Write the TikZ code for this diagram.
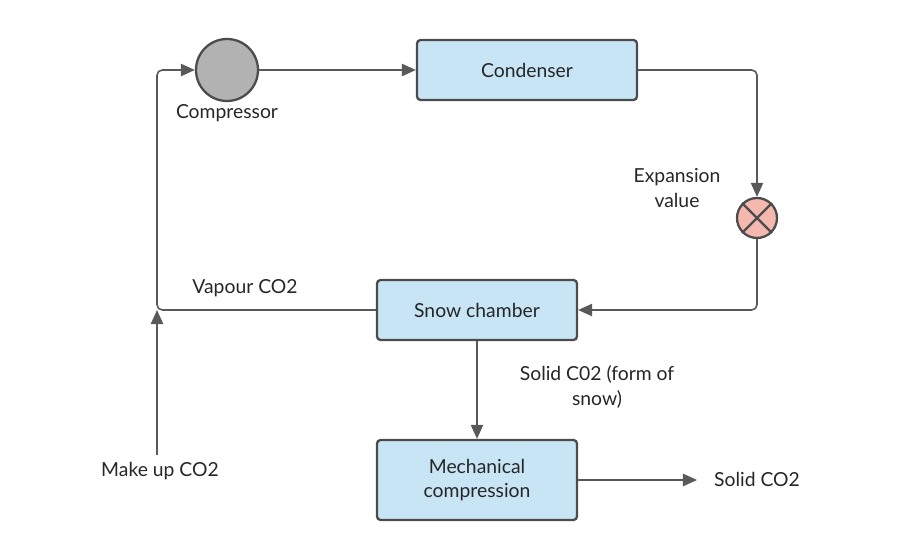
\documentclass[tikz,border=0pt]{standalone}
\usepackage{fontspec}
\setmainfont{Lato}
\usetikzlibrary{arrows.meta}
\definecolor{boxblue}{HTML}{C7E5F5}
\definecolor{valvered}{HTML}{F4B8AE}
\begin{document}
\begin{tikzpicture}[x=0.02cm,y=-0.02cm,
  font=\fontsize{11}{14}\selectfont, text=black!85,
  box/.style={draw=black!70, line width=1.3pt, fill=boxblue, rounded corners=2pt, align=center, inner sep=0pt},
  flow/.style={draw=black!65, line width=0.9pt, -{Triangle[length=8pt,width=7pt]}, rounded corners=3pt},
  lbl/.style={align=center}]
\useasboundingbox (0,0) rectangle (917,560);
\node[circle, draw=black!70, line width=1.3pt, fill=black!30, minimum size=62\pgfmathresult*0.02cm, minimum size=1.24cm, inner sep=0pt] (comp) at (227,70) {};
\node[box, minimum width=4.4cm, minimum height=1.2cm] (cond) at (527,70) {Condenser};
\node[circle, draw=black!70, line width=1.3pt, fill=valvered, minimum size=0.8cm, inner sep=0pt] (valve) at (757,218) {};
\draw[black!70, line width=1.3pt] (valve.north west) -- (valve.south east) (valve.north east) -- (valve.south west);
\node[box, minimum width=4cm, minimum height=1.2cm] (snow) at (477,310) {Snow chamber};
\node[box, minimum width=4cm, minimum height=1.6cm] (mech) at (477,480) {Mechanical\\compression};
\coordinate (mk) at (157,455);
\coordinate (sout) at (697,480);

\node[lbl] (lcomp) at (227,113) {Compressor};
\node[lbl] (lvalve) at (677,188) {Expansion\\value};
\node[lbl] (lvap) at (245,288) {Vapour CO2};
\node[lbl] (lsol) at (597,387) {Solid C02 (form of\\snow)};
\node[lbl] (lmk) at (160,471) {Make up CO2};
\node[lbl] (lsco) at (757,479) {Solid CO2};

\draw[flow] (comp) -- (cond);
\draw[flow] (cond.east) -- (757,70) -- (valve.north);
\draw[flow] (valve.south) -- (757,310) -- (snow.east);
\draw[flow] (snow.west) -- (157,310) -- (157,70) -- (comp.west);
\draw[flow] (mk) -- (157,310);
\draw[flow] (snow) -- (mech);
\draw[flow] (mech) -- (sout);
\end{tikzpicture}
\end{document}
